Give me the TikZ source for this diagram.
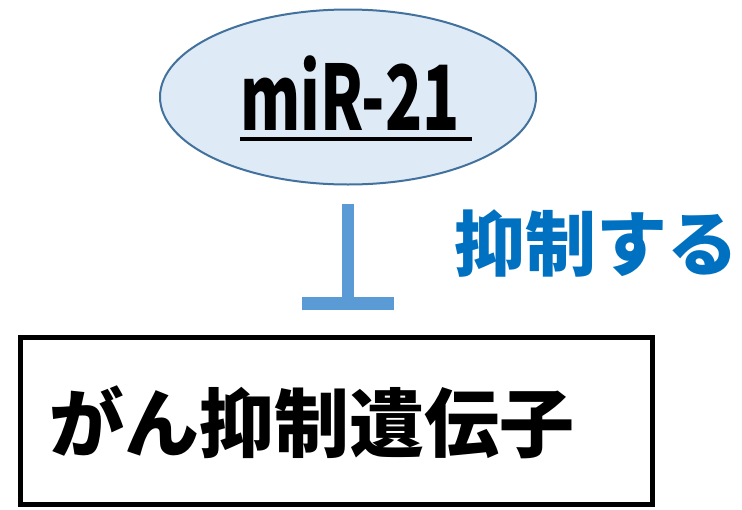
\documentclass[tikz,border=0pt]{standalone}
\usepackage{fontspec}
\setmainfont{Noto Sans CJK JP}
\usetikzlibrary{shapes.geometric,calc}
\definecolor{ellfill}{HTML}{DEEBF7}
\definecolor{elldraw}{HTML}{41719C}
\definecolor{inhblue}{HTML}{5B9BD5}
\definecolor{txtblue}{HTML}{0070C0}
\tikzset{
  mirnode/.style={ellipse, draw=elldraw, fill=ellfill, line width=2pt, minimum width=376pt, minimum height=175pt, inner sep=0pt},
  genebox/.style={draw=black, line width=5pt, minimum width=632pt, minimum height=167pt, inner sep=0pt},
  inhline/.style={draw=inhblue, line width=12pt},
  inhbar/.style={draw=inhblue, line width=13pt},
}
\begin{document}
\begin{tikzpicture}[x=1pt,y=-1pt]
\useasboundingbox (0,0) rectangle (742,509);
\node[mirnode] (mir) at (348,97) {};
\node[anchor=base, inner sep=0pt] (mirtxt) at (350,130) {\scalebox{0.68}[1]{\fontsize{90pt}{90pt}\selectfont\bfseries miR-21}};
\draw[line width=4pt] (mirtxt.base west) ++(0,9) coordinate (ul1) -- ($(mirtxt.base east)+(12,9)$);
\node[genebox] (box) at (336,421) {};
\node[inner sep=0pt] (gene) at (312,422) {\fontsize{75pt}{75pt}\selectfont\bfseries がん抑制遺伝子};
\node[inner sep=0pt, text=txtblue] (lbl) at (596,243) {\fontsize{71pt}{71pt}\selectfont\bfseries 抑制する};
\path (mir.south) ++(0,18) coordinate (s);
\coordinate (b) at ($(s |- box.north)+(0,-31.5)$);
\draw[inhline] (s) -- (b);
\draw[inhbar] ($(b)+(-46,0)$) -- ($(b)+(46,0)$);
\end{tikzpicture}
\end{document}
